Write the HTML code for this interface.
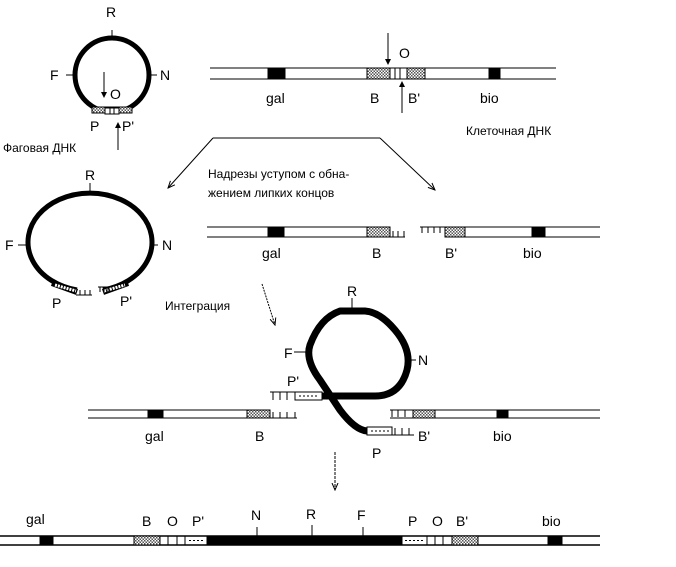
<!DOCTYPE html>
<html><head><meta charset="utf-8"><style>
html,body{margin:0;padding:0;background:#fff;}
svg{display:block;}
text{font-family:"Liberation Sans",sans-serif;font-size:14px;fill:#000;}
</style></head><body>
<svg width="676" height="567" viewBox="0 0 676 567" xmlns="http://www.w3.org/2000/svg">
<defs>
<pattern id="h" width="3" height="3" patternUnits="userSpaceOnUse"><rect width="3" height="3" fill="#fff"/><rect width="1.5" height="1.5" fill="#555"/><rect x="1.5" y="1.5" width="1.5" height="1.5" fill="#555"/></pattern>
<marker id="a" markerWidth="8" markerHeight="8" refX="7" refY="4" orient="auto"><path d="M0,1 L7,4 L0,7" fill="none" stroke="#000"/></marker>
<marker id="b" markerWidth="6" markerHeight="8" refX="5" refY="4" orient="auto"><path d="M0,1 L6,4 L0,7 z" fill="#000"/></marker>
</defs>
<g stroke="#000" fill="none">
<!-- top phage circle -->
<circle cx="112" cy="75" r="37" stroke-width="5"/>
<path d="M92,110 Q112,116 132,110" stroke="#fff" stroke-width="4"/>
<rect x="92" y="107" width="40" height="6" fill="url(#h)" stroke-width="1"/>
<rect x="105" y="108" width="14" height="6" fill="#fff" stroke-width="1"/>
<line x1="110" y1="108" x2="110" y2="114"/><line x1="114" y1="108" x2="114" y2="114"/>
<line x1="112" y1="30" x2="112" y2="38"/>
<line x1="66" y1="75" x2="75" y2="75"/><line x1="149" y1="75" x2="157" y2="75"/>
<line x1="104" y1="72" x2="104" y2="97" marker-end="url(#b)"/>
<line x1="118" y1="150" x2="118" y2="123" marker-end="url(#b)"/>
<!-- top cell DNA -->
<line x1="210" y1="68" x2="556" y2="68"/><line x1="210" y1="79" x2="556" y2="79"/>
<rect x="268" y="68" width="17" height="11" fill="#000"/>
<rect x="367" y="68" width="58" height="11" fill="url(#h)"/>
<rect x="390" y="68" width="17" height="11" fill="#fff"/>
<line x1="395" y1="68" x2="395" y2="79"/><line x1="400" y1="68" x2="400" y2="79"/>
<rect x="489" y="68" width="11" height="11" fill="#000"/>
<line x1="388" y1="33" x2="388" y2="64" marker-end="url(#b)"/>
<line x1="402" y1="113" x2="402" y2="82" marker-end="url(#b)"/>
<!-- arrows -->
<line x1="213" y1="138" x2="380" y2="138"/>
<line x1="213" y1="138" x2="168" y2="188" marker-end="url(#a)"/>
<line x1="380" y1="138" x2="435" y2="190" marker-end="url(#a)"/>
<!-- second circle -->
<path d="M77,290 A62,49 0 1 1 103,290" stroke-width="5"/>
<path d="M52,283 L77,292" stroke="#000" stroke-width="6"/>
<path d="M55,285 L76,291" stroke="#fff" stroke-width="3" stroke-dasharray="2,1"/>
<path d="M103,292 L128,283" stroke="#000" stroke-width="6"/>
<path d="M104,291 L125,285" stroke="#fff" stroke-width="3" stroke-dasharray="2,1"/>
<path d="M76,295 h16 M80,295 v-5 M85,295 v-5 M90,295 v-5"/>
<path d="M98,287 h12 M100,287 v5 M104,287 v5 M108,287 v5"/>
<line x1="90" y1="183" x2="90" y2="195"/>
<line x1="18" y1="245" x2="28" y2="245"/><line x1="150" y1="245" x2="158" y2="245"/>
<!-- second DNA -->
<line x1="207" y1="227" x2="390" y2="227"/><line x1="207" y1="237" x2="405" y2="237"/>
<rect x="268" y="227" width="16" height="10" fill="#000"/>
<rect x="367" y="227" width="23" height="10" fill="url(#h)"/>
<path d="M393,237 v-6 M398,237 v-6 M404,237 v-6"/>
<line x1="420" y1="227" x2="600" y2="227"/><line x1="445" y1="237" x2="600" y2="237"/>
<path d="M422,227 v6 M428,227 v6 M434,227 v6 M440,227 v6"/>
<rect x="445" y="227" width="20" height="10" fill="url(#h)"/>
<rect x="532" y="227" width="13" height="10" fill="#000"/>
<line x1="262" y1="284" x2="275" y2="325" stroke-dasharray="2,1" marker-end="url(#a)"/>
<!-- third: integration -->
<line x1="88" y1="410" x2="270" y2="410"/><line x1="88" y1="418" x2="297" y2="418"/>
<rect x="148" y="410" width="15" height="8" fill="#000"/>
<rect x="247" y="410" width="23" height="8" fill="url(#h)"/>
<path d="M273,418 v-6 M280,418 v-6 M287,418 v-6 M295,418 v-6"/>
<path d="M270,392 h25 M273,392 v8 M280,392 v8 M287,392 v8"/>
<rect x="295" y="392" width="27" height="8" fill="#fff"/>
<line x1="299" y1="396" x2="319" y2="396" stroke-dasharray="2,2"/>
<line x1="413" y1="410" x2="600" y2="410"/><line x1="390" y1="418" x2="600" y2="418"/>
<path d="M390,410 h23 M392,410 v7 M398,410 v7 M405,410 v7"/>
<rect x="413" y="410" width="22" height="8" fill="url(#h)"/>
<rect x="497" y="410" width="11" height="8" fill="#000"/>
<path d="M322,396 L375,396 Q400,396 407,370 Q412,350 395,330 Q380,312 365,311 L340,311 Q320,318 310,345 Q305,360 320,380 Q330,395 340,410 Q355,430 367,431" stroke-width="7" stroke-linejoin="round"/>
<rect x="367" y="427" width="25" height="8" fill="#fff"/>
<line x1="371" y1="431" x2="389" y2="431" stroke-dasharray="2,2"/>
<path d="M392,435 h22 M395,435 v-7 M402,435 v-7 M409,435 v-7"/>
<line x1="352" y1="298" x2="352" y2="309"/>
<line x1="294" y1="352" x2="307" y2="352"/><line x1="409" y1="360" x2="416" y2="360"/>
<line x1="335" y1="452" x2="335" y2="490" stroke-dasharray="3,1" marker-end="url(#a)"/>
<!-- bottom -->
<line x1="0" y1="536" x2="600" y2="536" stroke-width="1.5"/><line x1="0" y1="545" x2="600" y2="545" stroke-width="1.5"/>
<rect x="40" y="536" width="13" height="9" fill="#000"/>
<rect x="134" y="536" width="26" height="9" fill="url(#h)"/>
<path d="M168,536 v9 M177,536 v9 M185,536 v9"/>
<line x1="189" y1="540.5" x2="205" y2="540.5" stroke-dasharray="2,2"/>
<rect x="207" y="536" width="195" height="9" fill="#000"/>
<line x1="405" y1="540.5" x2="425" y2="540.5" stroke-dasharray="2,2"/>
<path d="M427,536 v9 M435,536 v9 M443,536 v9"/>
<rect x="452" y="536" width="26" height="9" fill="url(#h)"/>
<rect x="548" y="536" width="14" height="9" fill="#000"/>
<path d="M257,527 v9 M312,525 v11 M363,527 v9"/>
</g>
<text x="106" y="17">R</text><text x="50" y="80">F</text><text x="160" y="80">N</text>
<text x="110" y="99">O</text><text x="90" y="131">P</text><text x="122" y="131">P'</text>
<text x="3" y="152" style="font-size:12px">Фаговая ДНК</text>
<text x="399" y="58">O</text><text x="266" y="103">gal</text><text x="370" y="103">B</text><text x="408" y="103">B'</text><text x="480" y="103">bio</text>
<text x="466" y="135" style="font-size:12px">Клеточная ДНК</text>
<text x="208" y="178" style="font-size:12px">Надрезы уступом с обна-</text>
<text x="208" y="197" style="font-size:12px">жением липких концов</text>
<text x="85" y="180">R</text><text x="5" y="250">F</text><text x="162" y="250">N</text>
<text x="52" y="308">P</text><text x="120" y="306">P'</text>
<text x="262" y="258">gal</text><text x="372" y="258">B</text><text x="445" y="258">B'</text><text x="523" y="258">bio</text>
<text x="165" y="310" style="font-size:12px">Интеграция</text>
<text x="347" y="296">R</text><text x="284" y="358">F</text><text x="418" y="365">N</text><text x="287" y="386">P'</text>
<text x="145" y="441">gal</text><text x="255" y="441">B</text><text x="418" y="441">B'</text><text x="493" y="441">bio</text>
<text x="372" y="458">P</text>
<text x="26" y="524">gal</text><text x="142" y="526">B</text><text x="167" y="526">O</text><text x="192" y="526">P'</text>
<text x="251" y="520">N</text><text x="306" y="519">R</text><text x="357" y="520">F</text>
<text x="408" y="526">P</text><text x="432" y="526">O</text><text x="456" y="526">B'</text><text x="542" y="526">bio</text>
</svg>
</body></html>
